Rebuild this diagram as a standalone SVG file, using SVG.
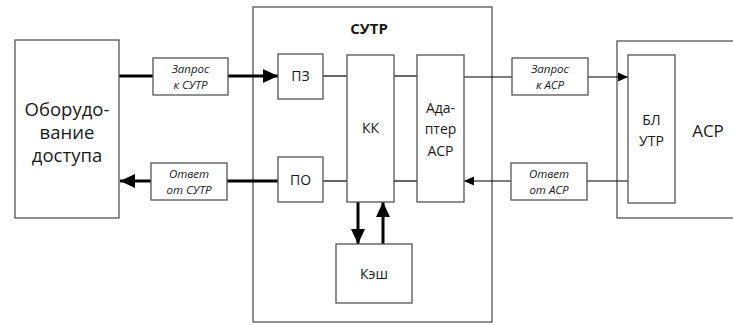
<svg xmlns="http://www.w3.org/2000/svg" width="733" height="325" viewBox="0 0 733 325">
<defs>
<marker id="ah" markerUnits="userSpaceOnUse" markerWidth="16" markerHeight="14" refX="15" refY="7" orient="auto"><path d="M0,0 L15,7 L0,14 Z" fill="#000"/></marker>
<marker id="as" markerUnits="userSpaceOnUse" markerWidth="11" markerHeight="10" refX="10" refY="5" orient="auto"><path d="M0,0.5 L10,5 L0,9.5 Z" fill="#000"/></marker>
<style>
.box{fill:#fff;stroke:#555;stroke-width:1.3}
.t{font-family:"Open Sans","DejaVu Sans",sans-serif;fill:#1a1a1a;text-anchor:middle}
.lbl{font-family:"Open Sans","DejaVu Sans",sans-serif;font-style:italic;font-size:11.5px;fill:#1a1a1a;text-anchor:middle}
.thick{stroke:#000;stroke-width:3;fill:none}
.thin{stroke:#000;stroke-width:1.2;fill:none}
</style>
</defs>
<rect width="733" height="325" fill="#fff"/>
<g id="sutr">
<rect class="box" x="253" y="7" width="239" height="315"/>
<text class="t" x="369" y="34" font-size="15" font-weight="bold">СУТР</text>
</g>
<g id="asr">
<rect class="box" x="617" y="41" width="130" height="177"/>
<text class="t" x="708" y="137" font-size="17">АСР</text>
</g>
<g id="connectors">
<line class="thick" x1="119" y1="76" x2="153" y2="76"/>
<line class="thick" x1="228" y1="76" x2="278" y2="76" marker-end="url(#ah)"/>
<line class="thick" x1="278" y1="181" x2="227" y2="181"/>
<line class="thick" x1="151" y1="181" x2="120" y2="181" marker-end="url(#ah)"/>
<line class="thin" x1="323" y1="76" x2="347" y2="76"/>
<line class="thin" x1="394" y1="76" x2="417" y2="76"/>
<line class="thin" x1="323" y1="181" x2="347" y2="181"/>
<line class="thin" x1="394" y1="181" x2="417" y2="181"/>
<line class="thin" x1="464" y1="77" x2="512" y2="77"/>
<line class="thin" x1="588" y1="77" x2="628" y2="77" marker-end="url(#as)"/>
<line class="thin" x1="628" y1="181" x2="587" y2="181"/>
<line class="thin" x1="511" y1="181" x2="464" y2="181" marker-end="url(#as)"/>
<line class="thick" x1="358" y1="202" x2="358" y2="244" marker-end="url(#ah)"/>
<line class="thick" x1="383" y1="244" x2="383" y2="202" marker-end="url(#ah)"/>
</g>
<g id="access">
<rect class="box" x="15" y="40" width="104" height="178"/>
<text class="t" x="67" y="116" font-size="18.5">Оборудо-</text>
<text class="t" x="67" y="139" font-size="18.5">вание</text>
<text class="t" x="67" y="162" font-size="18.5">доступа</text>
</g>
<g id="req-sutr">
<rect class="box" x="153" y="58" width="75" height="37"/>
<text class="lbl" x="190.5" y="73">Запрос</text>
<text class="lbl" x="190.5" y="89">к СУТР</text>
</g>
<g id="resp-sutr">
<rect class="box" x="151" y="163" width="76" height="37"/>
<text class="lbl" x="189" y="178">Ответ</text>
<text class="lbl" x="189" y="194">от СУТР</text>
</g>
<g id="pz">
<rect class="box" x="278" y="54" width="45" height="45"/>
<text class="t" x="300.5" y="81" font-size="14">ПЗ</text>
</g>
<g id="po">
<rect class="box" x="278" y="157" width="45" height="45"/>
<text class="t" x="300.5" y="185" font-size="14">ПО</text>
</g>
<g id="kk">
<rect class="box" x="347" y="55" width="47" height="147"/>
<text class="t" x="370.5" y="133" font-size="14">КК</text>
</g>
<g id="adapter">
<rect class="box" x="417" y="55" width="47" height="147"/>
<text class="t" x="440.5" y="113" font-size="14">Ада-</text>
<text class="t" x="440.5" y="134" font-size="14">птер</text>
<text class="t" x="440.5" y="156" font-size="14">АСР</text>
</g>
<g id="cache">
<rect class="box" x="336" y="244" width="76" height="59"/>
<text class="t" x="374" y="279" font-size="14">Кэш</text>
</g>
<g id="req-asr">
<rect class="box" x="512" y="58" width="76" height="37"/>
<text class="lbl" x="550" y="73">Запрос</text>
<text class="lbl" x="550" y="89">к АСР</text>
</g>
<g id="resp-asr">
<rect class="box" x="511" y="163" width="76" height="37"/>
<text class="lbl" x="549" y="178">Ответ</text>
<text class="lbl" x="549" y="194">от АСР</text>
</g>
<g id="bl-utr">
<rect class="box" x="628" y="55" width="47" height="148"/>
<text class="t" x="651.5" y="125" font-size="14">БЛ</text>
<text class="t" x="651.5" y="146" font-size="14">УТР</text>
</g>
</svg>
